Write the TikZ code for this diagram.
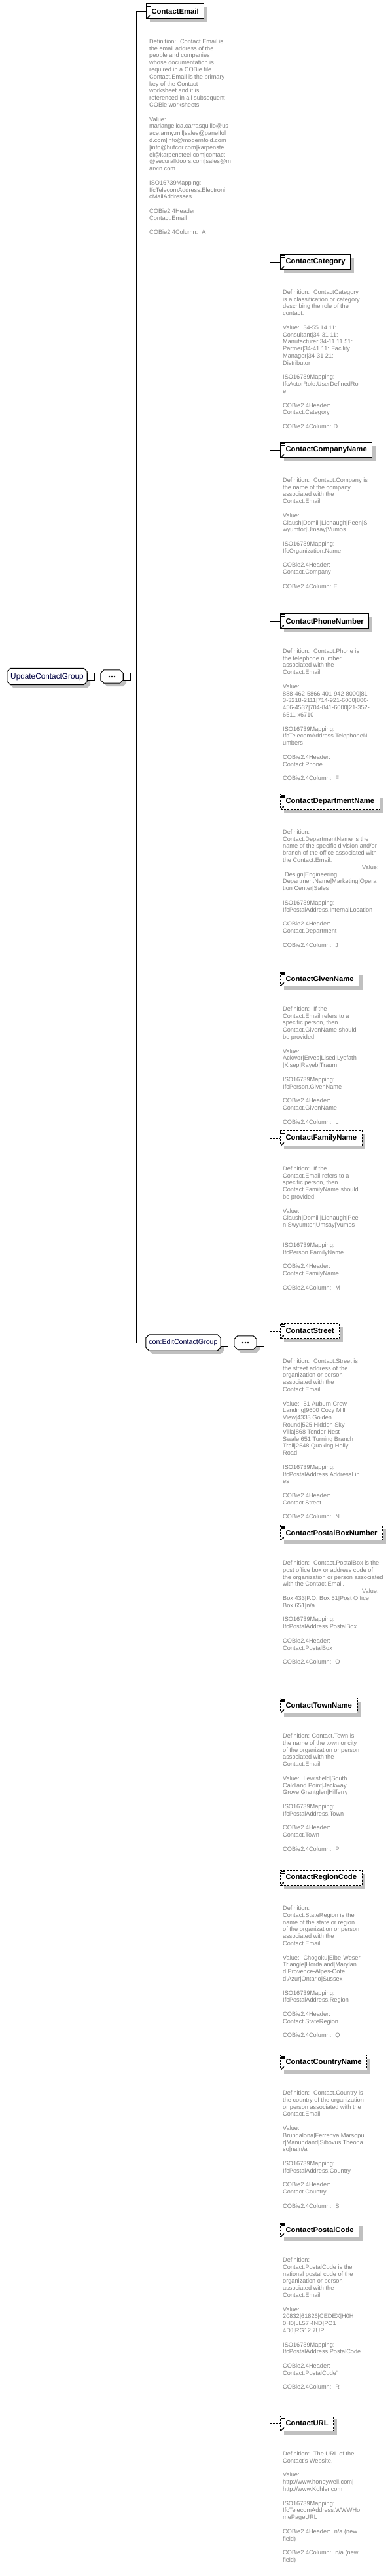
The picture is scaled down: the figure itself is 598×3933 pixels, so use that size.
\documentclass[tikz,border=0pt]{standalone}
\usepackage{fontspec}
\setmainfont{Liberation Sans}
\usepackage{tikz}
\usetikzlibrary{shadows, arrows.meta, backgrounds}

\definecolor{descgray}{RGB}{128,128,128}
\definecolor{shadowgray}{RGB}{192,192,192}
\definecolor{namenavy}{RGB}{0,0,64}

% outline of a group or compositor box, with cut corners
\newcommand{\octagon}[1]{([xshift=5pt]#1.north west) -- ([xshift=-5pt]#1.north east) -- ([yshift=-5pt]#1.north east) -- ([yshift=5pt]#1.south east) -- ([xshift=-5pt]#1.south east) -- ([xshift=5pt]#1.south west) -- ([yshift=5pt]#1.south west) -- ([yshift=-5pt]#1.north west) -- cycle}

\tikzset{
  elem/.style={draw, line width=1pt, fill=white, anchor=west, minimum height=23pt,
    inner xsep=8pt, inner ysep=0pt, font=\fontsize{11.3}{13}\selectfont\bfseries,
    drop shadow={shadow xshift=5pt, shadow yshift=-5pt, fill=shadowgray, opacity=1}},
  optelem/.style={elem, dash pattern=on 3pt off 2pt},
  octbox/.style={rectangle, inner sep=0pt, text=namenavy},
  minusbox/.style={draw, line width=1pt, fill=white, minimum size=11pt, inner sep=0pt,
    drop shadow={shadow xshift=1.2pt, shadow yshift=-1.2pt, fill=black, opacity=1}},
  desc/.style={anchor=north west, align=left, inner sep=0pt, text=descgray,
    font=\fontsize{9.2}{10.8}\selectfont},
  link/.style={line width=1pt},
  optlink/.style={line width=1pt, dash pattern=on 3pt off 2pt}
}

\begin{document}
\begin{tikzpicture}[x=1pt, y=-1pt]
    \useasboundingbox (0,0) rectangle (598,3933);

    % root group and its sequence
    \node[octbox, minimum width=122pt, minimum height=25pt, font=\fontsize{11.8}{13}\selectfont] (root) at (72,1033) {UpdateContactGroup};
    \node[octbox, minimum width=34pt, minimum height=20pt] (seqA) at (171,1033) {};
    \coordinate (forkA) at (208,1033);

    % the included group and its sequence
    \node[octbox, minimum width=114pt, minimum height=24pt, font=\fontsize{10.7}{12}\selectfont] (edit) at (280,2050) {con:EditContactGroup};
    \node[octbox, minimum width=34pt, minimum height=20pt] (seqB) at (375,2050) {};
    \coordinate (forkB) at (412,2050);

    % cut-corner outlines behind the group texts
    \begin{scope}[on background layer]
      \foreach \n in {root,seqA,edit,seqB} {
        \fill[shadowgray, transform canvas={shift={(5pt,-5pt)}}] \octagon{\n};
        \filldraw[fill=white, line width=1pt] \octagon{\n};
      }
    \end{scope}

    % minus boxes
    \node[minusbox] (rootminus) at (138.5,1033) {};
    \node[minusbox] (seqAminus) at (193.5,1033) {};
    \node[minusbox] (editminus) at (342.5,2050) {};
    \node[minusbox] (seqBminus) at (397.5,2050) {};

    % draw the elements
    \node[elem] (email) at (223,17) {ContactEmail};
    \node[elem] (category) at (428,400) {ContactCategory};
    \node[elem] (company) at (428,687) {ContactCompanyName};
    \node[elem] (phone) at (428,948) {ContactPhoneNumber};
    \node[optelem] (dept) at (428,1224) {ContactDepartmentName};
    \node[optelem] (given) at (428,1494) {ContactGivenName};
    \node[optelem] (family) at (428,1738) {ContactFamilyName};
    \node[optelem] (street) at (428,2032) {ContactStreet};
    \node[optelem] (pobox) at (428,2340) {ContactPostalBoxNumber};
    \node[optelem] (town) at (428,2604) {ContactTownName};
    \node[optelem] (region) at (428,2867) {ContactRegionCode};
    \node[optelem] (country) at (428,3149) {ContactCountryName};
    \node[optelem] (postcode) at (428,3404) {ContactPostalCode};
    \node[optelem] (url) at (428,3700) {ContactURL};

    % small icons in the element boxes
    \foreach \n in {email,category,company,phone,dept,given,family,street,pobox,town,region,country,postcode,url} {
      \foreach \k in {2,3.8,5.6}
        \draw[line width=0.6pt] ([shift={(1.5,\k)}]\n.north west) -- ++(6,0);
      \draw[line width=0.8pt, -{Latex[length=3pt,width=3pt]}] ([shift={(2,-1.5)}]\n.south west) -- ++(4.5,-4.5);
    }

    % minus signs and sequence symbols
    \foreach \n in {rootminus,seqAminus,editminus,seqBminus}
      \draw[line width=1pt] ([xshift=2.5pt]\n.west) -- ([xshift=-2.5pt]\n.east);
    \foreach \n in {seqA,seqB} {
      \draw[line width=1pt] ([xshift=4pt]\n.west) -- ([xshift=-4pt]\n.east);
      \foreach \d in {-4,0,4}
        \fill ([xshift=\d pt]\n.center) circle (1.4pt);
    }

    % connectors
    \draw[link] (rootminus.east) -- (seqA.west);
    \draw[link] (seqAminus.east) -- (forkA);
    \draw[link] (forkA) |- (email.west);
    \draw[link] (forkA) |- (edit.west);
    \draw[link] (editminus.east) -- (seqB.west);
    \draw[link] (seqBminus.east) -- (forkB);
    \draw[link] (forkB) |- (category.west);
    \draw[link] (forkB |- company.west) -- (company.west);
    \draw[link] (forkB |- phone.west) -- (phone.west);
    \foreach \n in {dept,given,family,street,pobox,town,region,country,postcode}
      \draw[optlink] (forkB |- \n.west) -- (\n.west);
    \draw[optlink] (forkB) |- (url.west);

    % descriptions
    \node[desc] (emaildesc) at (228,59.5) {Definition:~ Contact.Email is\\the email address of the\\people and companies\\whose documentation is\\required in a COBie file.\\Contact.Email is the primary\\key of the Contact\\worksheet and it is\\referenced in all subsequent\\COBie worksheets.\\[10.8pt]Value:\\mariangelica.carrasquillo@us\\ace.army.mil|sales@panelfol\\d.com|info@modernfold.com\\|info@hufcor.com|karpenste\\el@karpensteel.com|contact\\@securalldoors.com|sales@m\\arvin.com\\[10.8pt]ISO16739Mapping:\\IfcTelecomAddress.Electroni\\cMailAddresses\\[10.8pt]COBie2.4Header:\\Contact.Email\\[10.8pt]COBie2.4Column:~ A};

    \node[desc] (categorydesc) at (432,442.5) {Definition:~ ContactCategory\\is a classification or category\\describing the role of the\\contact.\\[10.8pt]Value:~ 34-55 14 11:\\Consultant|34-31 11:\\Manufacturer|34-11 11 51:\\Partner|34-41 11: Facility\\Manager|34-31 21:\\Distributor\\[10.8pt]ISO16739Mapping:\\IfcActorRole.UserDefinedRol\\e\\[10.8pt]COBie2.4Header:\\Contact.Category\\[10.8pt]COBie2.4Column: D};

    \node[desc] (companydesc) at (432,729.5) {Definition:~ Contact.Company is\\the name of the company\\associated with the\\Contact.Email.\\[10.8pt]Value:\\Claush|Domili|Lienaugh|Peen|S\\wyumtor|Umsay|Vumos\\[10.8pt]ISO16739Mapping:\\IfcOrganization.Name\\[10.8pt]COBie2.4Header:\\Contact.Company\\[10.8pt]COBie2.4Column: E};

    \node[desc] (phonedesc) at (432,990.5) {Definition:~ Contact.Phone is\\the telephone number\\associated with the\\Contact.Email.\\[10.8pt]Value:\\888-462-5866|401-942-8000|81-\\3-3218-2111|714-921-6000|800-\\456-4537|704-841-6000|21-352-\\6511 x6710\\[10.8pt]ISO16739Mapping:\\IfcTelecomAddress.TelephoneN\\umbers\\[10.8pt]COBie2.4Header:\\Contact.Phone\\[10.8pt]COBie2.4Column:~ F};

    \node[desc] (deptdesc) at (432,1266.5) {Definition:\\Contact.DepartmentName is the\\name of the specific division and/or\\branch of the office associated with\\the Contact.Email.\\\hspace*{121pt}Value:\\\hspace*{3pt}Design|Engineering\\DepartmentName|Marketing|Opera\\tion Center|Sales\\[10.8pt]ISO16739Mapping:\\IfcPostalAddress.InternalLocation\\[10.8pt]COBie2.4Header:\\Contact.Department\\[10.8pt]COBie2.4Column:~ J};

    \node[desc] (givendesc) at (432,1536.5) {Definition:~ If the\\Contact.Email refers to a\\specific person, then\\Contact.GivenName should\\be provided.\\[10.8pt]Value:\\Ackwor|Erves|Lised|Lyefath\\|Kisep|Rayeb|Traum\\[10.8pt]ISO16739Mapping:\\IfcPerson.GivenName\\[10.8pt]COBie2.4Header:\\Contact.GivenName\\[10.8pt]COBie2.4Column:~ L};

    \node[desc] (familydesc) at (432,1780.5) {Definition:~ If the\\Contact.Email refers to a\\specific person, then\\Contact.FamilyName should\\be provided.\\[10.8pt]Value:\\Claush|Domili|Lienaugh|Pee\\n|Swyumtor|Umsay|Vumos\\[20pt]ISO16739Mapping:\\IfcPerson.FamilyName\\[10.8pt]COBie2.4Header:\\Contact.FamilyName\\[10.8pt]COBie2.4Column:~ M};

    \node[desc] (streetdesc) at (432,2074.5) {Definition:~ Contact.Street is\\the street address of the\\organization or person\\associated with the\\Contact.Email.\\[10.8pt]Value:~ 51 Auburn Crow\\Landing|9600 Cozy Mill\\View|4333 Golden\\Round|525 Hidden Sky\\Villa|868 Tender Nest\\Swale|651 Turning Branch\\Trail|2548 Quaking Holly\\Road\\[10.8pt]ISO16739Mapping:\\IfcPostalAddress.AddressLin\\es\\[10.8pt]COBie2.4Header:\\Contact.Street\\[10.8pt]COBie2.4Column:~ N};

    \node[desc] (poboxdesc) at (432,2382.5) {Definition:~ Contact.PostalBox is the\\post office box or address code of\\the organization or person associated\\with the Contact.Email.\\\hspace*{121pt}Value:\\Box 433|P.O. Box 51|Post Office\\Box 651|n/a\\[10.8pt]ISO16739Mapping:\\IfcPostalAddress.PostalBox\\[10.8pt]COBie2.4Header:\\Contact.PostalBox\\[10.8pt]COBie2.4Column:~ O};

    \node[desc] (towndesc) at (432,2646.5) {Definition: Contact.Town is\\the name of the town or city\\of the organization or person\\associated with the\\Contact.Email.\\[10.8pt]Value:~ Lewisfield|South\\Caldland Point|Jackway\\Grove|Grantglen|Hilferry\\[10.8pt]ISO16739Mapping:\\IfcPostalAddress.Town\\[10.8pt]COBie2.4Header:\\Contact.Town\\[10.8pt]COBie2.4Column:~ P};

    \node[desc] (regiondesc) at (432,2909.5) {Definition:\\Contact.StateRegion is the\\name of the state or region\\of the organization or person\\associated with the\\Contact.Email.\\[10.8pt]Value:~ Chogoku|Elbe-Weser\\Triangle|Hordaland|Marylan\\d|Provence-Alpes-Cote\\d'Azur|Ontario|Sussex\\[10.8pt]ISO16739Mapping:\\IfcPostalAddress.Region\\[10.8pt]COBie2.4Header:\\Contact.StateRegion\\[10.8pt]COBie2.4Column:~ Q};

    \node[desc] (countrydesc) at (432,3191.5) {Definition:~ Contact.Country is\\the country of the organization\\or person associated with the\\Contact.Email.\\[10.8pt]Value:\\Brundalona|Ferrenya|Marsopu\\r|Manundand|Sibovus|Theona\\so|na|n/a\\[10.8pt]ISO16739Mapping:\\IfcPostalAddress.Country\\[10.8pt]COBie2.4Header:\\Contact.Country\\[10.8pt]COBie2.4Column:~ S};

    \node[desc] (postcodedesc) at (432,3446.5) {Definition:\\Contact.PostalCode is the\\national postal code of the\\organization or person\\associated with the\\Contact.Email.\\[10.8pt]Value:\\20832|61826|CEDEX|H0H\\0H0|LL57 4ND|PO1\\4DJ|RG12 7UP\\[10.8pt]ISO16739Mapping:\\IfcPostalAddress.PostalCode\\[10.8pt]COBie2.4Header:\\Contact.PostalCode"\\[10.8pt]COBie2.4Column:~ R};

    \node[desc] (urldesc) at (432,3742.5) {Definition:~ The URL of the\\Contact's Website.\\[10.8pt]Value:\\http://www.honeywell.com|\\http://www.Kohler.com\\[10.8pt]ISO16739Mapping:\\IfcTelecomAddress.WWWHo\\mePageURL\\[10.8pt]COBie2.4Header:~ n/a (new\\field)\\[10.8pt]COBie2.4Column:~ n/a (new\\field)};

\end{tikzpicture}
\end{document}
